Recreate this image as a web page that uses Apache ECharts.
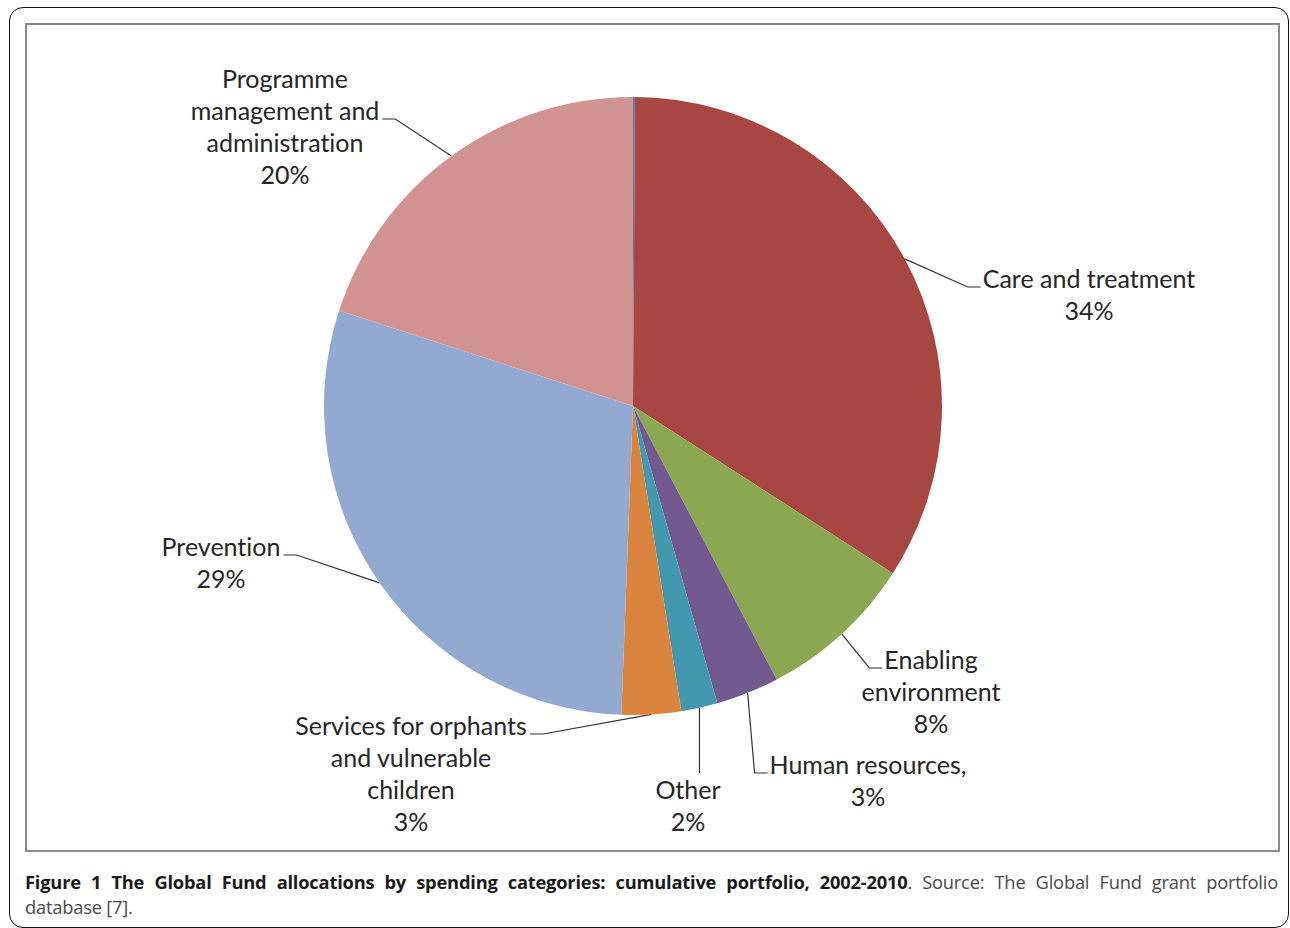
<!DOCTYPE html>
<html><head><meta charset="utf-8">
<script src="https://cdn.jsdelivr.net/npm/echarts@6/dist/echarts.min.js"></script>
<style>
html,body{margin:0;padding:0;background:#fff;}
#page{position:relative;width:1290px;height:928px;overflow:hidden;background:#fff;}
#outer{position:absolute;left:9px;top:7px;width:1280px;height:921px;border:1.5px solid #111;border-radius:14px;box-sizing:border-box;}
#frame{position:absolute;left:25px;top:23px;width:1255px;height:829px;border:2px solid #8b8b8b;box-sizing:border-box;}
#chart{position:absolute;left:0;top:0;width:1290px;height:928px;font-variant-ligatures:none;font-feature-settings:"liga" 0;}
#chart text{font-variant-ligatures:none;font-feature-settings:"liga" 0;}
#cap{position:absolute;left:25px;top:869px;width:1253px;font-family:'Open Sans',sans-serif;font-size:18.3px;line-height:25px;color:#4a4a4a;letter-spacing:-0.2px;}
#cap .l1{text-align:justify;text-align-last:justify;white-space:nowrap;}
#cap b{color:#1a1a1a;}
</style></head>
<body>
<div id="page">
  <div id="outer"></div>
  <div id="frame"></div>
  <div id="chart"></div>
  <div id="cap">
    <div class="l1"><b>Figure 1 The Global Fund allocations by spending categories: cumulative portfolio, 2002-2010</b>. Source: The Global Fund grant portfolio</div>
    <div>database [7].</div>
  </div>
</div>
<script>
// ---- data ----
const categories = ['Unlabelled', 'Care and treatment', 'Enabling\nenvironment', 'Human resources,', 'Other',
  'Services for orphants\nand vulnerable\nchildren', 'Prevention', 'Programme\nmanagement and\nadministration'];
const values = [0.1, 34.0, 8.2, 3.3, 1.9, 3.1, 29.4, 20.0];
const colors = ['#4F81BD', '#A84644', '#8BA74F', '#72598F', '#4198AF', '#DB843D', '#94A9D0', '#D19392'];

// ---- label placement (center x, top y, line to attach, side) ----
const labelSpots = [
  null,
  {x: 1089, y: 262, line: 0, side: 'right'},
  {x: 931, y: 643, line: 0, side: 'right'},
  {x: 868, y: 748, line: 0, side: 'right'},
  {x: 688, y: 773, line: 0, side: 'below'},
  {x: 411, y: 709, line: 0, side: 'left'},
  {x: 221, y: 530, line: 0, side: 'left'},
  {x: 285, y: 62, line: 1, side: 'left'}
];
const FONT_SIZE = 25, LH = 32, FONT = 'Lato';

const ctx = document.createElement('canvas').getContext('2d');
ctx.font = FONT_SIZE + 'px ' + FONT;
function measure(t) { return ctx.measureText(t).width; }

const chart = echarts.init(document.getElementById('chart'), null, {renderer: 'svg'});
chart.setOption({
  animation: false,
  backgroundColor: 'transparent',
  series: [{
    type: 'pie',
    center: [633, 406],
    radius: [0, 309],
    startAngle: 90,
    clockwise: true,
    percentPrecision: 1,
    avoidLabelOverlap: false,
    itemStyle: {borderWidth: 0},
    emphasis: {disabled: true},
    label: {
      show: true,
      position: 'outside',
      formatter: p => p.name + '\n' + Math.round(p.percent) + '%',
      fontFamily: FONT, fontSize: FONT_SIZE, lineHeight: LH, color: '#262626',
      align: 'center'
    },
    labelLine: {show: true, length: 10, length2: 10, lineStyle: {color: '#333', width: 1.2}},
    labelLayout: function (p) {
      const i = p.dataIndex; const L = labelSpots[i];
      if (!L) return {};
      const lines = categories[i].split('\n');
      const p0 = p.labelLinePoints[0];
      let pts;
      if (L.side === 'below') {
        pts = [p0, [p0[0], L.y]];
      } else {
        const w = measure(lines[L.line]);
        const segY = L.y + L.line * LH + LH / 2 + 9;
        const endX = L.side === 'right' ? L.x - w / 2 - 2 : L.x + w / 2 + 3;
        const bendX = L.side === 'right' ? endX - 13 : endX + 13;
        pts = [p0, [bendX, segY], [endX, segY]];
      }
      return {x: L.x, y: L.y, align: 'center', verticalAlign: 'top', labelLinePoints: pts};
    },
    data: categories.map((c, i) => ({
      name: c, value: values[i], itemStyle: {color: colors[i]},
      label: {show: i !== 0}, labelLine: {show: i !== 0}
    }))
  }]
});
</script>
</body></html>
